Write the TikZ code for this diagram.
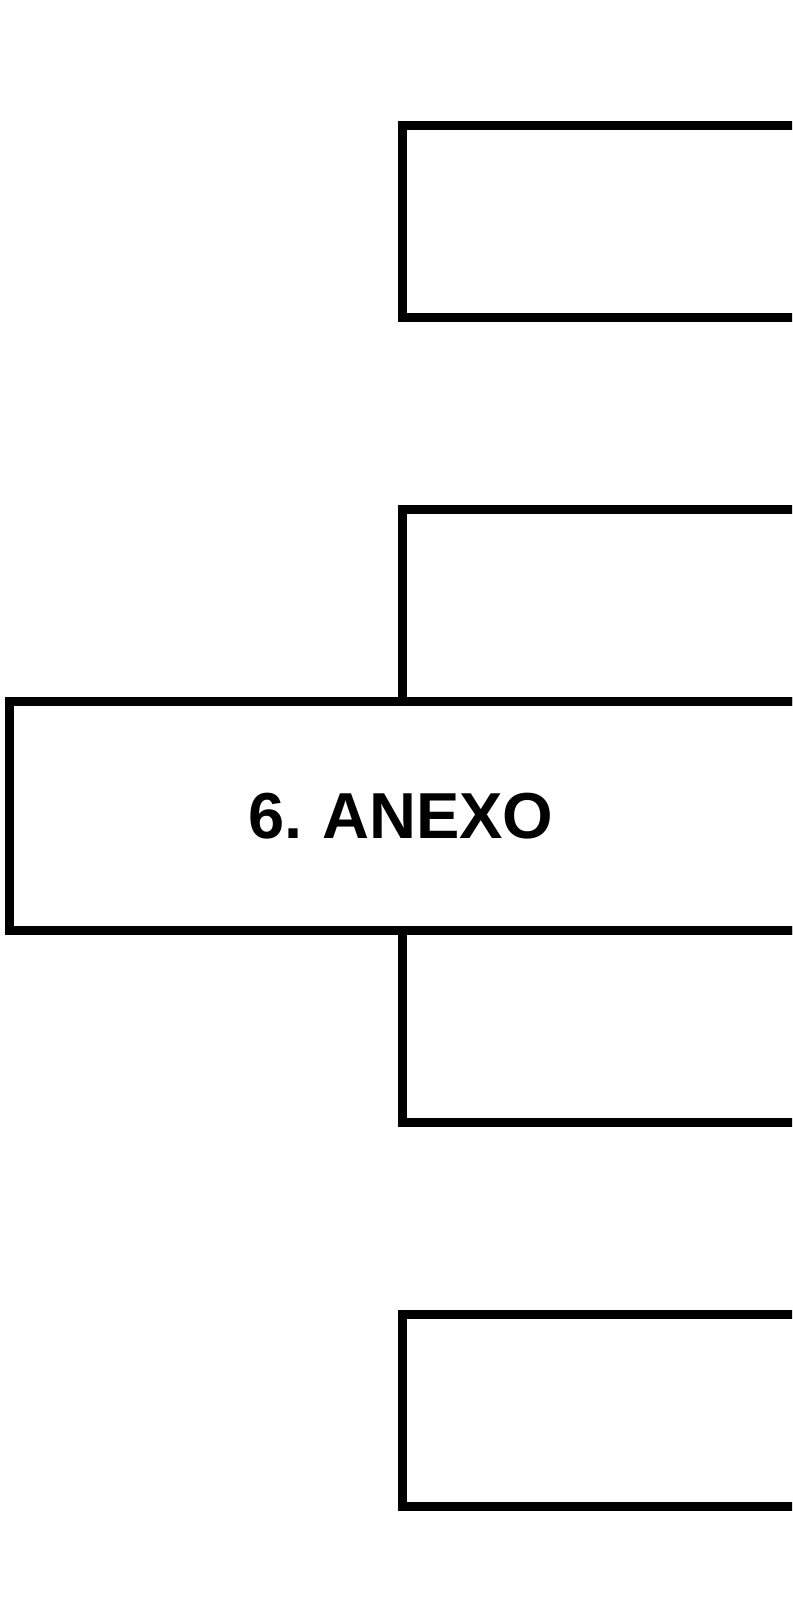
\documentclass[tikz,border=0pt]{standalone}
\usepackage{fontspec}
\setmainfont{Liberation Sans}
\begin{document}
\begin{tikzpicture}[x=1pt,y=-1pt,
  box/.style={draw=black, line width=9pt, rectangle, fill=white, outer sep=0pt, inner sep=0pt, anchor=north west, minimum width=417.5pt},
  title/.style={font=\fontsize{65}{70}\selectfont\bfseries, inner sep=0pt}]
\useasboundingbox (0,0) rectangle (792,1616);
\clip (0,0) rectangle (792,1616);
\node[box, minimum height=192pt] (b1) at (402.5,125.5) {};
\node[box, minimum height=192pt] (b2) at (402.5,509.5) {};
\node[box, minimum height=192.5pt] (b3) at (402.5,930) {};
\node[box, minimum height=192pt] (b4) at (402.5,1314.5) {};
\node[box, minimum width=810.7pt, minimum height=228.5pt] (main) at (9.3,701.5) {};
\node[title] (t) at (401,816.5) {6.\hspace{0.3em}ANEXO};
\end{tikzpicture}
\end{document}
